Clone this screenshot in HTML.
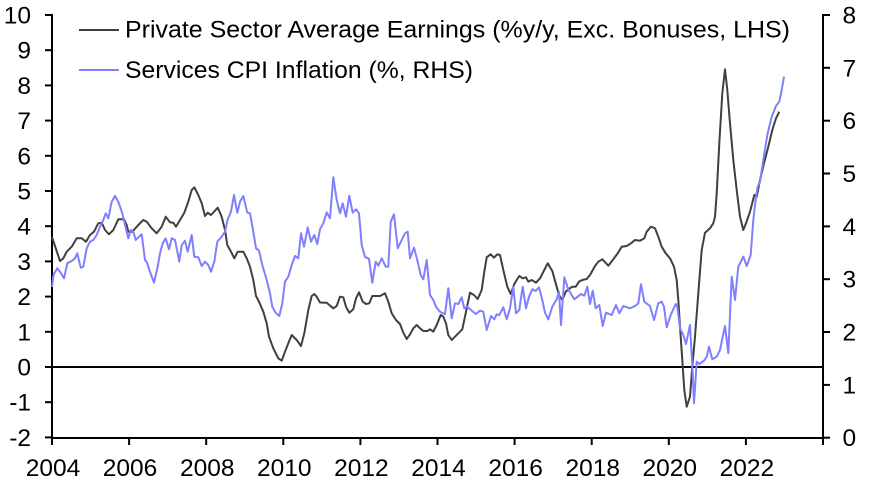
<!DOCTYPE html>
<html>
<head>
<meta charset="utf-8">
<style>
html,body{margin:0;padding:0;background:#fff;}
svg{display:block;}
text{font-family:"Liberation Sans",Arial,sans-serif;fill:#000;}
</style>
</head>
<body>
<svg width="876" height="488" viewBox="0 0 876 488" xmlns="http://www.w3.org/2000/svg">
<rect width="876" height="488" fill="#fff"/>

<!-- axes -->
<g stroke="#000" stroke-width="2" fill="none">
<line x1="52" y1="14" x2="52" y2="438"/>
<line x1="823" y1="14" x2="823" y2="438"/>
<line x1="51" y1="438" x2="824" y2="438"/>
<line x1="52" y1="367" x2="823" y2="367"/>
<!-- left ticks -->
<line x1="45" y1="15" x2="52" y2="15"/>
<line x1="45" y1="50.2" x2="52" y2="50.2"/>
<line x1="45" y1="85.4" x2="52" y2="85.4"/>
<line x1="45" y1="120.6" x2="52" y2="120.6"/>
<line x1="45" y1="155.8" x2="52" y2="155.8"/>
<line x1="45" y1="191" x2="52" y2="191"/>
<line x1="45" y1="226.2" x2="52" y2="226.2"/>
<line x1="45" y1="261.4" x2="52" y2="261.4"/>
<line x1="45" y1="296.6" x2="52" y2="296.6"/>
<line x1="45" y1="331.8" x2="52" y2="331.8"/>
<line x1="45" y1="367" x2="52" y2="367"/>
<line x1="45" y1="402.2" x2="52" y2="402.2"/>
<line x1="45" y1="437.4" x2="52" y2="437.4"/>
<!-- right ticks -->
<line x1="823" y1="15" x2="830" y2="15"/>
<line x1="823" y1="67.8" x2="830" y2="67.8"/>
<line x1="823" y1="120.7" x2="830" y2="120.7"/>
<line x1="823" y1="173.5" x2="830" y2="173.5"/>
<line x1="823" y1="226.4" x2="830" y2="226.4"/>
<line x1="823" y1="279.2" x2="830" y2="279.2"/>
<line x1="823" y1="332" x2="830" y2="332"/>
<line x1="823" y1="384.9" x2="830" y2="384.9"/>
<line x1="823" y1="437.7" x2="830" y2="437.7"/>
<!-- bottom ticks -->
<line x1="52" y1="438" x2="52" y2="445"/>
<line x1="129.1" y1="438" x2="129.1" y2="445"/>
<line x1="206.2" y1="438" x2="206.2" y2="445"/>
<line x1="283.3" y1="438" x2="283.3" y2="445"/>
<line x1="360.4" y1="438" x2="360.4" y2="445"/>
<line x1="437.5" y1="438" x2="437.5" y2="445"/>
<line x1="514.6" y1="438" x2="514.6" y2="445"/>
<line x1="591.7" y1="438" x2="591.7" y2="445"/>
<line x1="668.8" y1="438" x2="668.8" y2="445"/>
<line x1="745.9" y1="438" x2="745.9" y2="445"/>
<line x1="823" y1="438" x2="823" y2="445"/>
</g>

<!-- left labels -->
<g font-size="24.5" text-anchor="end">
<text x="31" y="23.5">10</text>
<text x="31" y="58.7">9</text>
<text x="31" y="93.9">8</text>
<text x="31" y="129.1">7</text>
<text x="31" y="164.3">6</text>
<text x="31" y="199.5">5</text>
<text x="31" y="234.7">4</text>
<text x="31" y="269.9">3</text>
<text x="31" y="305.1">2</text>
<text x="31" y="340.3">1</text>
<text x="31" y="375.5">0</text>
<text x="31" y="410.7">-1</text>
<text x="31" y="445.9">-2</text>
</g>
<!-- right labels -->
<g font-size="24.5" text-anchor="start">
<text x="842.5" y="23.5">8</text>
<text x="842.5" y="76.3">7</text>
<text x="842.5" y="129.2">6</text>
<text x="842.5" y="182">5</text>
<text x="842.5" y="234.9">4</text>
<text x="842.5" y="287.7">3</text>
<text x="842.5" y="340.5">2</text>
<text x="842.5" y="393.4">1</text>
<text x="842.5" y="446.2">0</text>
</g>
<!-- bottom labels -->
<g font-size="24.5" text-anchor="middle">
<text x="53" y="476">2004</text>
<text x="130" y="476">2006</text>
<text x="207.2" y="476">2008</text>
<text x="284.3" y="476">2010</text>
<text x="361.4" y="476">2012</text>
<text x="438.5" y="476">2014</text>
<text x="515.6" y="476">2016</text>
<text x="592.7" y="476">2018</text>
<text x="669.8" y="476">2020</text>
<text x="746.9" y="476">2022</text>
</g>

<!-- legend -->
<line x1="79" y1="30" x2="119" y2="30" stroke="#404040" stroke-width="2"/>
<line x1="79" y1="70" x2="119" y2="70" stroke="#7f7fff" stroke-width="2"/>
<text x="125" y="37.5" font-size="24.5" textLength="665" lengthAdjust="spacingAndGlyphs">Private Sector Average Earnings (%y/y, Exc. Bonuses, LHS)</text>
<text x="125" y="78" font-size="24.5" textLength="348" lengthAdjust="spacingAndGlyphs">Services CPI Inflation (%, RHS)</text>

<!-- dark series -->
<polyline fill="none" stroke="#404040" stroke-width="2" stroke-linejoin="round" points="52,237 55,246 60,261 63.3,258.3 66.7,251.7 71.7,246.7 76.7,238.3 81.7,238.3 86,241.7 90,235 94,231.7 98.3,223.3 101.7,222.7 105,230 109,234.3 113.3,230 118.3,219.3 124,219.3 126.7,225 128.3,231.7 132.3,231.7 138.3,225 143.3,220 146.7,221.7 151.7,228.3 156.7,233.3 161.7,226.7 165.7,216.7 170,222.3 173.3,222.7 176,226.7 180,220 184.3,212.7 188.3,201.7 191.7,190 194.3,187.3 198.3,195 201.7,203.3 205,216 207.7,212.7 211,215 215,210.7 217.7,207.7 221.7,216.7 225,230 227.3,245 231,251.7 234.3,258.3 237.7,251.7 243.3,251.7 246.7,258.3 250,266.7 253.3,280 256,296 259,301.7 263.3,311.7 266.7,323.3 269,336.7 273.3,348.3 278.3,358.3 281.7,360.7 285,351.7 288.3,343.3 291.7,335 296.7,340 301,346 304.3,333.3 308.3,310 311.7,296 314.3,294 316.7,296.7 320,302.5 326.7,302.7 333.3,308.3 336.7,306 340,296.7 343.3,297.3 346,306.7 349.3,312.7 353.3,309.3 356,298.3 359,292.3 362.7,301.7 366,304 369.3,303.3 372.3,296 380,296 385,293.3 388.3,301.7 391.7,313.3 396,320 400,324 403.3,332.7 406.7,339 410,334.3 413.3,328.3 416.7,325 420,328.3 423.3,331 427.3,331 430,329.3 433.3,331.7 436.7,325 440.7,315 443.3,316.7 446,323.3 448.3,335 451.7,340 455,336.7 458.3,333.3 462.3,329.3 465.7,313.3 470,292.7 474,295 477.7,299 481.7,290 484.3,271.7 486.7,257.3 490.7,254.3 494,257.7 497.3,254.3 500,255 503.3,270 507.3,286.7 510.7,294 514.3,284 516.7,280 519.3,276 522.7,278.3 526,277.3 528.3,281.7 531.7,280 536,282.7 540,278.3 544.3,270 547.7,263.3 552.3,271 555.7,283.3 559,295 562.3,300 565.7,291.7 569,289 572.3,286.7 575.7,286.7 579,281.7 582.3,280 586.7,279 590,275 595,266 598.3,261.7 602.3,259.3 608.3,265.7 613.3,259.3 617.7,253.3 621.7,246.7 626.7,246 631,243.3 635,240 640,240.7 644.3,238.3 646.7,231.7 651,226.7 655,228.3 658.3,236.7 661.7,246.7 665.7,253.3 670,258.3 674,266.7 676.7,280 678.3,300 680,326.7 682.3,360 684.3,390 686.7,406.7 690,396.7 692.3,366.7 695,336.7 698.3,293.3 701.7,250 705,232.7 710,228.3 713.3,223.3 715,216.7 716.7,193.3 719.3,143.3 722.3,93.3 725,69.3 727.3,90 730,123.3 733.3,160 736.7,190 740,216.7 743.3,230 746,223.3 750,211.7 754.3,195 756.7,196.7 760,180 764,163.3 768.3,146.7 772.3,130 776,118.3 779.3,111.7"/>

<!-- blue series -->
<polyline fill="none" stroke="#7f7fff" stroke-width="2" stroke-linejoin="round" points="52,287 53.3,276 54.3,273.3 57.3,268.3 60,271.7 64,278.3 67.3,263.3 71.7,261 75,258.3 77.3,253.3 80.7,267.7 83.3,266.7 86.7,248.3 90,241.7 93.3,240 96.7,235 100,226.7 103.3,220 105.7,213.3 108.3,218.3 111.7,201.7 115,196 118.3,201.7 122.3,213.3 125,225 128.3,238.3 130.7,230 133.3,231.7 135.7,240 139,236.7 141.7,234.3 143.3,246.7 145,260 146.7,261.7 150,271.7 154,282.7 157.7,266.7 160,253.3 162.7,243.3 165.7,238.3 169,249.3 171.7,238.3 175,240 179.3,261.7 181.7,245 185,240.7 187.7,251.7 191.7,235 194.3,256.7 198.3,257.3 201.7,266 205,261.7 208.3,265 211,271.7 214.3,261.7 217.3,241.7 221.7,236.7 225,231.7 227.7,219.3 231,211.7 234,195 237.3,212.7 240,201.7 243.3,196 247.3,212.7 250,213.3 253.3,231.7 256,248.3 259,250.7 262.3,265 266.7,280 270,293.3 272.3,306.7 275.7,312.7 279.3,316 282.3,303.3 285,281.7 288.3,276.7 291.7,265 295,256 298.3,258.3 301,233.3 304,246.7 307.7,227.3 311,241.7 314.3,235 317.3,244 320,229.3 323.3,223.3 326.7,212.3 330,218.3 333.3,177.3 336.7,200 340,213.3 342.7,203.3 346,216.7 349.3,195.7 352.7,212.7 356,209.3 359,213.3 361.7,245 365,256.7 369,259 372.3,282.7 375.7,261.7 378.3,265.7 381.7,258.3 385.7,266.7 388.3,266.7 390.7,221.7 394,214.3 397.7,248.3 401.7,240 405,233.3 407.7,231.7 410,258.3 414,247.7 417.3,260 420.7,275 423.3,279.3 426.7,260 430,295 433.3,300 436,306.7 440,311.7 445,314.3 448.3,288.3 451.7,318.3 455,303.3 458.3,304 461.7,297.3 464.3,308.3 467.3,306.7 471,310 475.7,314 480,310.7 483.3,311.7 486.7,330 491,316 494.3,319.3 496.7,314.3 499.3,315 503.3,307.3 506.7,319.3 510,308.3 513.3,286.7 516,313.3 519.3,310 522.7,286.7 526,308.3 529,296.7 532.3,289.3 535.7,291 539,287.3 542.3,300 545,312.7 548.3,319.3 552.3,306.7 556.7,299.3 559,291.7 561,325 564.3,277.3 568.3,289.3 571.7,295 574.3,299.3 577.7,296.7 581,294 584.3,295.7 587.3,286.7 590,304 592.7,290.7 595.7,308.3 599.3,305 602.7,326 606,312.7 611.7,315 616,305 619.3,313.3 623.3,306 630,308.3 635,306 638.3,303.3 641,284.3 644.3,301.7 650,306 654,320 658.3,303.3 661.7,301.7 664,306.7 666.7,327.3 670.7,315 675.7,304 677.3,306.7 680,328.3 683.3,335 686,344 690,325 692.7,373.3 694,403.3 696.7,361.7 699.3,364 704,360.7 706.7,356.7 709,346.7 712.3,359.3 716.7,356.7 720,350 722.7,336.7 725,326 728.3,353.3 731.7,276.7 735,300 738.3,266.7 741.7,260 743.3,256.7 746.7,266 750.7,255 753.3,220 756,196.7 757.7,186.7 760,181.7 763.3,160 767.3,135 771.7,116.7 776,106 779.3,101.7 781.7,90 784,76.7"/>
</svg>
</body>
</html>
